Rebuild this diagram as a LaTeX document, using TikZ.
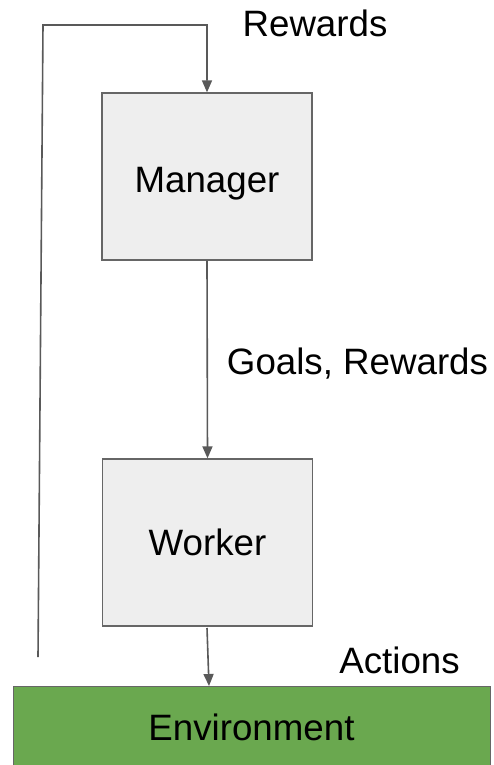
\documentclass[tikz,border=0pt]{standalone}
\usepackage{fontspec}
\setmainfont{Liberation Sans}
\usetikzlibrary{arrows.meta}
\definecolor{boxfill}{HTML}{EEEEEE}
\definecolor{boxline}{HTML}{666666}
\definecolor{envgreen}{HTML}{6AA84F}
\definecolor{wire}{HTML}{595959}
\tikzset{
  bigtext/.style={font=\fontsize{36.7}{44}\selectfont},
  block/.style={draw=boxline, line width=1.3pt, fill=boxfill, minimum width=210pt, minimum height=167pt, inner sep=0pt, text depth=0pt, bigtext},
  envbox/.style={draw=boxline, line width=1.3pt, fill=envgreen, minimum width=477pt, minimum height=90pt, inner sep=0pt},
  wireline/.style={draw=wire, line width=1.6pt},
  flow/.style={wireline, -{Triangle[width=10pt,length=12pt]}},
  lbl/.style={bigtext, inner sep=0pt, anchor=base}
}
\begin{document}
\begin{tikzpicture}[x=1pt, y=-1pt]
  \useasboundingbox (0,0) rectangle (493,765);
  \clip (0,0) rectangle (493,765);
  % the three stages
  \node[block, text height=31pt] (manager) at (207,176.5) {Manager};
  \node[block, text height=25pt] (worker) at (207.5,542.5) {Worker};
  \node[envbox, anchor=north west] (env) at (13,686) {};
  \node[lbl] (envtext) at (251.5,740) {Environment};
  % feedback path from the environment up to the manager
  \coordinate (fbstart) at (38,657);
  \coordinate (fbtop) at (43,25);
  \coordinate (fbturn) at (207,25);
  \draw[flow] (fbstart) -- (fbtop) -- (fbturn) -- (manager.north);
  % manager to worker, worker to environment
  \draw[flow] (manager.south) -- (worker.north);
  \coordinate (actstart) at (207,628);
  \draw[flow] (actstart) -- (env.north -| 209,0);
  % labels on the connectors
  \node[lbl] (rewards) at (315,37) {Rewards};
  \node[lbl] (goals) at (357.5,374) {Goals, Rewards};
  \node[lbl] (actions) at (399.5,673) {Actions};
\end{tikzpicture}
\end{document}
